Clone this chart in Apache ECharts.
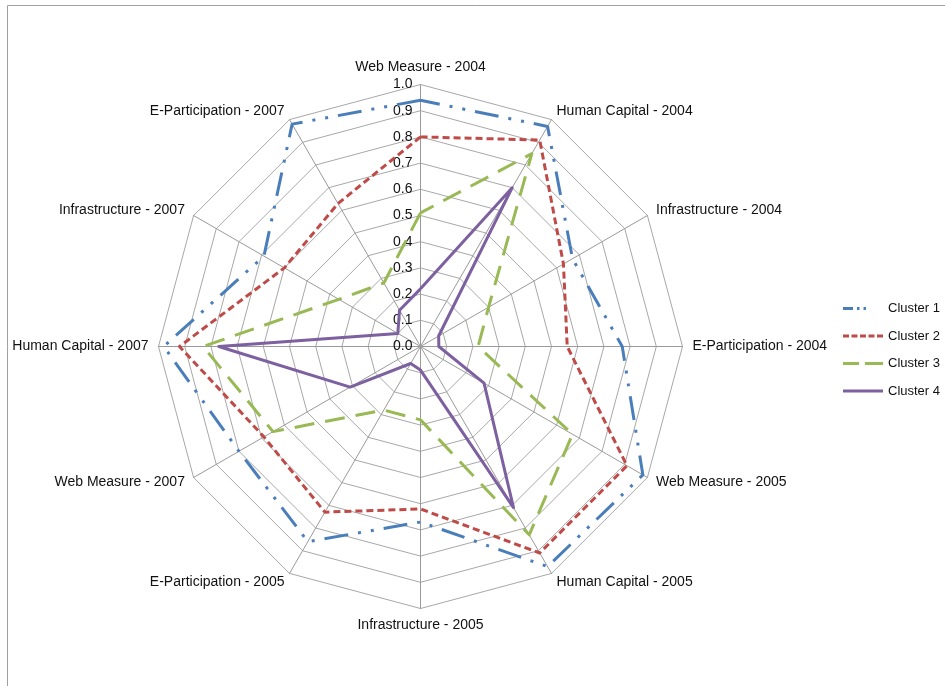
<!DOCTYPE html>
<html>
<head>
<meta charset="utf-8">
<script src="https://cdn.jsdelivr.net/npm/echarts@6/dist/echarts.min.js"></script>
<style>
html, body { margin: 0; padding: 0; background: #fff; }
#main { width: 945px; height: 686px; }
</style>
</head>
<body>
<div id="main"></div>
<script>
// axes in clockwise order, starting at the top
var axisNames = ['Web Measure - 2004', 'Human Capital - 2004', 'Infrastructure - 2004', 'E-Participation - 2004',
  'Web Measure - 2005', 'Human Capital - 2005', 'Infrastructure - 2005', 'E-Participation - 2005',
  'Web Measure - 2007', 'Human Capital - 2007', 'Infrastructure - 2007', 'E-Participation - 2007'];
var seriesNames = ['Cluster 1', 'Cluster 2', 'Cluster 3', 'Cluster 4'];
var cluster1 = [0.94, 0.97, 0.67, 0.77, 0.98, 0.97, 0.67, 0.86, 0.80, 0.98, 0.69, 0.98];
var cluster2 = [0.80, 0.91, 0.63, 0.56, 0.91, 0.91, 0.62, 0.73, 0.69, 0.92, 0.60, 0.63];
var cluster3 = [0.51, 0.85, 0.30, 0.22, 0.67, 0.83, 0.28, 0.28, 0.65, 0.83, 0.36, 0.28];
var cluster4 = [0.22, 0.70, 0.08, 0.07, 0.28, 0.71, 0.09, 0.075, 0.31, 0.77, 0.10, 0.16];
var axisMax = 1.0;
var splitCount = 10;

var colors = ['#4a7ebb', '#be4b48', '#98b954', '#7d60a0'];
var dashes = [[24, 10, 3, 10, 3, 10], [7, 4], [20, 11], 'solid'];
var legendIcons = [
  'path://M0,0h10v3h-10z M14,0h2.5v3h-2.5z M20.5,0h2.5v3h-2.5z M40,0L40,3L40,0z',
  'path://M0,0h6v3h-6z M8.5,0h6v3h-6z M17,0h6v3h-6z M25.5,0h6v3h-6z M34,0h6v3h-6z',
  'path://M0,0h16v3h-16z M22,0h18v3h-18z',
  'path://M0,0h40v3h-40z'
];

// echarts lays radar axes out counter-clockwise, so flip the order
function ccw(arr) {
  return [arr[0]].concat(arr.slice(1).reverse());
}

var font = '"Liberation Sans", Arial, sans-serif';
var myChart = echarts.init(document.getElementById('main'));

var indicator = ccw(axisNames).map(function (n, i) {
  var ind = { name: n, min: 0, max: axisMax };
  if (i === 0) {
    ind.axisLabel = {
      show: true, color: '#111', fontSize: 14, fontFamily: font, margin: 8,
      padding: [5, 0, 0, 0],
      formatter: function (v) { return v.toFixed(1); }
    };
  }
  return ind;
});

var allData = [cluster1, cluster2, cluster3, cluster4];
var series = seriesNames.map(function (name, i) {
  return {
    name: name,
    type: 'radar',
    symbol: 'none',
    silent: true,
    lineStyle: { color: colors[i], width: 3, type: dashes[i] },
    itemStyle: { color: colors[i] },
    data: [{ name: name, value: ccw(allData[i]) }]
  };
});

var option = {
  backgroundColor: '#fff',
  animation: false,
  graphic: [{
    type: 'rect',
    shape: { x: 7.5, y: 5.5, width: 960, height: 720 },
    style: { fill: 'none', stroke: '#a0a0a0', lineWidth: 1 },
    silent: true
  }],
  legend: {
    orient: 'vertical',
    left: 838,
    top: 297,
    itemWidth: 40,
    itemHeight: 3,
    itemGap: 14.5,
    textStyle: { color: '#111', fontSize: 13, fontFamily: font },
    data: seriesNames.map(function (n, i) {
      return { name: n, icon: legendIcons[i], itemStyle: { color: colors[i] } };
    })
  },
  radar: {
    center: [420.5, 346.5],
    radius: 262,
    shape: 'polygon',
    splitNumber: splitCount,
    startAngle: 90,
    nameGap: 10,
    axisName: { color: '#111', fontSize: 14, fontFamily: font },
    axisLine: { lineStyle: { color: '#9a9a9a', width: 1 } },
    splitLine: { lineStyle: { color: '#a8a8a8', width: 1 } },
    splitArea: { show: false },
    axisTick: { show: false },
    axisLabel: { show: false },
    indicator: indicator
  },
  series: series
};
myChart.setOption(option);
</script>
</body>
</html>
